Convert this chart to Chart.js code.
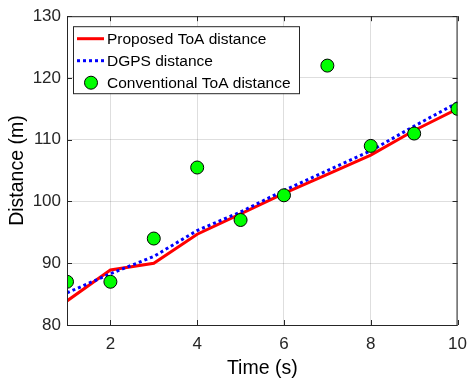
<!DOCTYPE html>
<html>
<head>
<meta charset="utf-8">
<script src="https://cdn.jsdelivr.net/npm/chart.js@4.4.1/dist/chart.umd.min.js"></script>
<style>
  html, body { margin: 0; padding: 0; background: #fff; }
  #wrap { width: 476px; height: 381px; }
</style>
</head>
<body>
<div id="wrap"><canvas id="chart"></canvas></div>
<script>
// values
const timeSteps = [1, 2, 3, 4, 5, 6, 7, 8, 9, 10];
const proposedToA = [83.9, 88.9, 90.0, 94.7, 98.0, 101.3, 104.4, 107.5, 111.5, 115.0];
const dgpsDist = [85.2, 88.3, 91.1, 95.3, 98.3, 101.8, 105.0, 108.2, 112.2, 116.0];
const conventionalToA = [87.0, 87.0, 94.0, 105.5, 97.0, 101.0, 122.0, 109.0, 111.0, 115.0];
const xTicks = [2, 4, 6, 8, 10];
const yTicks = [80, 90, 100, 110, 120, 130];

const FONT = 'Liberation Sans, Arial, sans-serif';
const toPoints = ys => timeSteps.map((t, i) => ({ x: t, y: ys[i] }));

// frame, inward ticks and the boxed legend inside the axes (matlab style)
const matlabFrame = {
    id: 'matlabFrame',
    afterDraw(chart) {
        const { ctx, chartArea: a, scales } = chart;
        ctx.save();
        ctx.strokeStyle = '#262626';
        ctx.lineWidth = 1;
        ctx.strokeRect(a.left + 0.5, a.top + 0.5, a.right - a.left - 1, a.bottom - a.top);
        const tl = 5;
        ctx.beginPath();
        xTicks.forEach(v => {
            const px = Math.round(scales.x.getPixelForValue(v)) + 0.5;
            ctx.moveTo(px, a.bottom); ctx.lineTo(px, a.bottom - tl);
            ctx.moveTo(px, a.top); ctx.lineTo(px, a.top + tl);
        });
        yTicks.forEach(v => {
            const py = Math.round(scales.y.getPixelForValue(v)) + 0.5;
            ctx.moveTo(a.left, py); ctx.lineTo(a.left + tl, py);
            ctx.moveTo(a.right, py); ctx.lineTo(a.right - tl, py);
        });
        ctx.stroke();

        // legend box
        const bx = a.left + 6, by = a.top + 10, bw = 226, bh = 67, rowH = 22;
        ctx.fillStyle = '#fff';
        ctx.fillRect(bx, by, bw, bh);
        ctx.strokeStyle = '#262626';
        ctx.strokeRect(bx + 0.5, by + 0.5, bw, bh);
        ctx.font = '15.5px ' + FONT;
        ctx.textBaseline = 'middle';
        ctx.textAlign = 'left';
        chart.data.datasets.forEach((ds, i) => {
            const cy = by + 12.5 + i * rowH;
            if (ds.showLine === false) {
                ctx.beginPath();
                ctx.arc(bx + 18, cy, ds.pointRadius, 0, Math.PI * 2);
                ctx.fillStyle = ds.pointBackgroundColor;
                ctx.fill();
                ctx.strokeStyle = ds.pointBorderColor;
                ctx.lineWidth = ds.pointBorderWidth;
                ctx.stroke();
            } else {
                ctx.beginPath();
                ctx.setLineDash(ds.borderDash || []);
                ctx.strokeStyle = ds.borderColor;
                ctx.lineWidth = ds.borderWidth;
                ctx.moveTo(bx + 4, cy); ctx.lineTo(bx + 31, cy);
                ctx.stroke();
                ctx.setLineDash([]);
            }
            ctx.fillStyle = '#000';
            ctx.fillText(ds.label, bx + 34, cy + 1);
        });
        ctx.restore();
    }
};

new Chart(document.getElementById('chart'), {
    type: 'line',
    data: {
        datasets: [
            {
                label: 'Proposed ToA distance',
                data: toPoints(proposedToA),
                borderColor: '#ff0000',
                borderWidth: 3,
                pointRadius: 0,
                order: 2
            },
            {
                label: 'DGPS distance',
                data: toPoints(dgpsDist),
                borderColor: '#0000ff',
                borderWidth: 3,
                borderDash: [3, 3],
                pointRadius: 0,
                order: 1
            },
            {
                label: 'Conventional ToA distance',
                data: toPoints(conventionalToA),
                showLine: false,
                pointRadius: 6.5,
                pointBackgroundColor: '#00ff00',
                pointBorderColor: '#000',
                pointBorderWidth: 1,
                order: 0
            }
        ]
    },
    options: {
        responsive: true,
        maintainAspectRatio: false,
        animation: false,
        layout: { padding: { top: 15, right: 9, left: 0, bottom: 0 } },
        plugins: {
            legend: { display: false },
            tooltip: { enabled: false }
        },
        scales: {
            x: {
                type: 'linear',
                min: 1,
                max: 10,
                afterBuildTicks: s => { s.ticks = xTicks.map(v => ({ value: v })); },
                afterFit: s => { s.height = 56; },
                border: { display: false },
                grid: { color: 'rgba(0,0,0,0.13)', drawTicks: false },
                ticks: { color: '#262626', padding: 9, maxRotation: 0, font: { family: FONT, size: 17 } },
                title: { display: true, text: 'Time (s)', color: '#000', padding: { top: 0, bottom: 1 }, font: { family: FONT, size: 19.5 } }
            },
            y: {
                min: 80,
                max: 130,
                afterBuildTicks: s => { s.ticks = yTicks.map(v => ({ value: v })); },
                afterFit: s => { s.width = 67; },
                border: { display: false },
                grid: { color: 'rgba(0,0,0,0.13)', drawTicks: false },
                ticks: { color: '#262626', padding: 6, font: { family: FONT, size: 17 } },
                title: { display: true, text: 'Distance (m)', color: '#000', padding: { top: 6, bottom: 0 }, font: { family: FONT, size: 19.5 } }
            }
        }
    },
    plugins: [matlabFrame]
});
</script>
</body>
</html>
